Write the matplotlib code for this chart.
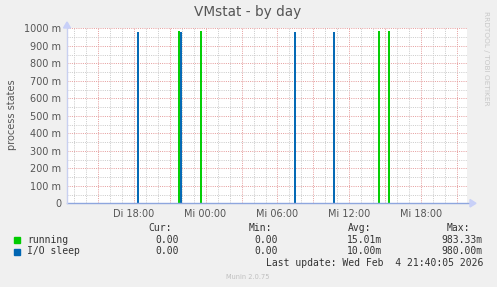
import matplotlib
matplotlib.use("Agg")
import matplotlib.pyplot as plt
import numpy as np

# ---- data (hours since Tue 00:00) ----
x_start = 12.45
x_end = 45.8
major_ticks = [18, 24, 30, 36, 42]
tick_labels = ["Di 18:00", "Mi 00:00", "Mi 06:00", "Mi 12:00", "Mi 18:00"]

running_times = [21.8, 23.64, 38.5, 39.33]
running_values = [0.983, 0.983, 0.983, 0.983]
iosleep_times = [18.33, 21.99, 31.5, 34.68]
iosleep_values = [0.98, 0.98, 0.98, 0.98]

series_names = ["running", "I/O sleep"]
series_colors = ["#00cc00", "#0066b3"]
cur_vals = ["0.00", "0.00"]
min_vals = ["0.00", "0.00"]
avg_vals = ["15.01m", "10.00m"]
max_vals = ["983.33m", "980.00m"]

yticks = [0, 0.1, 0.2, 0.3, 0.4, 0.5, 0.6, 0.7, 0.8, 0.9, 1.0]
ytick_labels = ["0", "100 m", "200 m", "300 m", "400 m", "500 m",
                "600 m", "700 m", "800 m", "900 m", "1000 m"]

W, H = 497, 287
fig = plt.figure(figsize=(W / 100, H / 100), dpi=100, facecolor="#f0f0f0")

def px(x, y):
    return x / W, 1 - y / H

L, R, T, B = 67, 467, 28.3, 203.3
ax = fig.add_axes([L / W, 1 - B / H, (R - L) / W, (B - T) / H])
ax.set_facecolor("white")
ax.set_xlim(x_start, x_end)
ax.set_ylim(0, 1.0)
for s in ax.spines.values():
    s.set_visible(False)

# grid
dots = (0, (1, 1.2))
gray = "#cccccc"
red = "#e6a0a0"
for xv in np.arange(13, 46, 1):
    if xv % 3 == 0:
        continue
    ax.axvline(xv, color=gray, lw=0.72, ls=dots, zorder=1)
for xv in np.arange(15, 46, 3):
    ax.axvline(xv, color=red, lw=0.72, ls=dots, zorder=1)
for yv in np.arange(0.05, 1.0, 0.1):
    ax.axhline(yv, color=gray, lw=0.72, ls=dots, zorder=1)
for yv in yticks[1:]:
    ax.axhline(yv, color=red, lw=0.72, ls=dots, zorder=1)

# data
ax.vlines(running_times, 0, running_values, color=series_colors[0], lw=1.4, zorder=3)
ax.vlines(iosleep_times, 0, iosleep_values, color=series_colors[1], lw=1.4, zorder=3)

ax.set_xticks(major_ticks)
ax.set_xticklabels(tick_labels)
ax.set_yticks(yticks)
ax.set_yticklabels(ytick_labels)
ax.tick_params(axis="both", length=0, labelsize=7, colors="#555555", pad=4)

# axis lines with arrows
ax.plot([x_start, x_end + 0.2], [0, 0], color="#8ea6de", lw=1.0, clip_on=False, zorder=4)
ax.plot([x_start, x_start], [0, 1.03], color="#c8d0f0", lw=1.0, clip_on=False, zorder=4)
fig.patches.append(matplotlib.patches.Polygon(
    [px(470, 199.5), px(470, 207), px(476, 203.3)], closed=True,
    transform=fig.transFigure, color="#c8d0f8"))
fig.patches.append(matplotlib.patches.Polygon(
    [px(63.5, 28), px(70.5, 28), px(67, 22)], closed=True,
    transform=fig.transFigure, color="#c8d0f8"))

# texts
fig.text(*px(248, 12), "VMstat - by day", ha="center", va="center",
         fontsize=9.8, color="#555555")
fig.text(*px(12, 115), "process states", ha="center", va="center",
         rotation=90, fontsize=7, color="#555555")
fig.text(*px(486, 58), "RRDTOOL / TOBI OETIKER", ha="center", va="center",
         rotation=270, fontsize=5.3, color="#c8c8c8")

mono = "DejaVu Sans Mono"
fs = 7
tc = "#333333"
fig.text(*px(172, 228), "Cur:", ha="right", va="center", family=mono, fontsize=fs, color=tc)
fig.text(*px(272, 228), "Min:", ha="right", va="center", family=mono, fontsize=fs, color=tc)
fig.text(*px(371, 228), "Avg:", ha="right", va="center", family=mono, fontsize=fs, color=tc)
fig.text(*px(470, 228), "Max:", ha="right", va="center", family=mono, fontsize=fs, color=tc)

rows_y = [240, 251.5]
for i in range(2):
    y = rows_y[i]
    fig.patches.append(matplotlib.patches.Rectangle(
        px(14, y + 3), 6 / W, 6 / H, transform=fig.transFigure,
        color=series_colors[i]))
    fig.text(*px(27, y), series_names[i], ha="left", va="center", family=mono, fontsize=fs, color=tc)
    fig.text(*px(178.5, y), cur_vals[i], ha="right", va="center", family=mono, fontsize=fs, color=tc)
    fig.text(*px(278, y), min_vals[i], ha="right", va="center", family=mono, fontsize=fs, color=tc)
    fig.text(*px(382, y), avg_vals[i], ha="right", va="center", family=mono, fontsize=fs, color=tc)
    fig.text(*px(483, y), max_vals[i], ha="right", va="center", family=mono, fontsize=fs, color=tc)

fig.text(*px(483, 263.5), "Last update: Wed Feb  4 21:40:05 2026", ha="right", va="center",
         family=mono, fontsize=fs, color=tc)
fig.text(*px(248, 277), "Munin 2.0.75", ha="center", va="center",
         fontsize=4.8, color="#c0c0c0")

fig.savefig("out.png", dpi=100, facecolor=fig.get_facecolor())
